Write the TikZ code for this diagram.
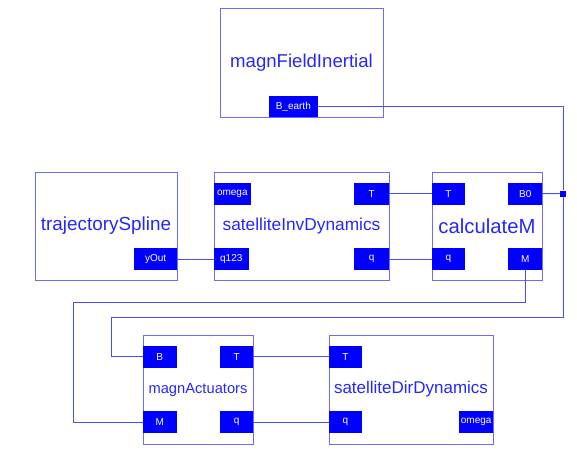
\documentclass[tikz,border=0pt]{standalone}
\usepackage{fontspec}
\setmainfont{Liberation Sans}
\usetikzlibrary{positioning}
\definecolor{BoxClr}{rgb}{0.42,0.42,1}
\definecolor{WireClr}{rgb}{0.3,0.3,1}
\definecolor{PortClr}{rgb}{0,0,1}
\definecolor{TitleClr}{rgb}{0.15,0.15,1}

\begin{document}
\begin{tikzpicture}[x=1pt,y=-1pt,
  blk/.style={draw=BoxClr,line width=.8pt,text=TitleClr,inner sep=0pt,minimum height=108pt},
  port/.style={fill=PortClr,text=white,inner sep=0pt,minimum width=35pt,minimum height=22pt,font=\fontsize{10}{12}\selectfont},
  wire/.style={draw=WireClr,line width=.9pt}]
\useasboundingbox (0,0) rectangle (577,465);

% blocks
\node[blk,minimum width=163pt,minimum height=109pt,font=\fontsize{18.6}{20}\selectfont] (field) at (301.5,62.5) {magnFieldInertial};
\node[blk,minimum width=142pt,font=\fontsize{18.9}{20}\selectfont] (traj) at (106,226) {trajectorySpline};
\node[blk,minimum width=175pt,font=\fontsize{17.3}{20}\selectfont] (inv) at (301.5,226) {satelliteInvDynamics};
\node[blk,minimum width=110pt,font=\fontsize{20.3}{22}\selectfont] (calc) at (487,226) {calculateM};
\node[blk,minimum width=110pt,minimum height=109pt,font=\fontsize{14.7}{16}\selectfont] (act) at (198,389.5) {magnActuators};
\node[blk,minimum width=164pt,minimum height=109pt,font=\fontsize{17}{19}\selectfont] (dir) at (411,389.5) {satelliteDirDynamics};

% ports
\node[port,minimum width=49pt,minimum height=21pt,above right=0pt and 49pt of field.south west] (fieldB) {B\_earth};
\node[port,minimum width=43pt,above left=10pt and 0pt of traj.south east] (trajY) {yOut};
\node[port,minimum width=37pt,below right=11pt and 0pt of inv.north west] (invW) {omega};
\node[port,below left=11pt and 0pt of inv.north east] (invT) {T};
\node[port,above right=10pt and 0pt of inv.south west] (invQ123) {q123};
\node[port,above left=10pt and 0pt of inv.south east] (invQ) {q};
\node[port,minimum width=33pt,below right=11pt and 0pt of calc.north west] (calcT) {T};
\node[port,minimum width=34pt,below left=11pt and 0pt of calc.north east] (calcB0) {B0};
\node[port,minimum width=33pt,above right=10pt and 0pt of calc.south west] (calcQ) {q};
\node[port,minimum width=34pt,above left=10pt and 0pt of calc.south east] (calcM) {M};
\node[port,minimum width=34pt,below right=11pt and 0pt of act.north west] (actB) {B};
\node[port,minimum width=33pt,below left=11pt and 0pt of act.north east] (actT) {T};
\node[port,minimum width=34pt,above right=11pt and 0pt of act.south west] (actM) {M};
\node[port,minimum width=33pt,above left=11pt and 0pt of act.south east] (actQ) {q};
\node[port,minimum width=33pt,below right=11pt and 0pt of dir.north west] (dirT) {T};
\node[port,minimum width=33pt,above right=11pt and 0pt of dir.south west] (dirQ) {q};
\node[port,minimum width=34pt,above left=11pt and 0pt of dir.south east] (dirW) {omega};

\node[fill=PortClr,inner sep=0pt,minimum size=6pt] (jn) at (563,193.5) {};
\coordinate (bendB) at (111,317);
\coordinate (bendM) at (73,302);

% wires
\draw[wire] (trajY) -- (invQ123);
\draw[wire] (invT) -- (calcT);
\draw[wire] (invQ) -- (calcQ);
\draw[wire] (actT) -- (dirT);
\draw[wire] (actQ) -- (dirQ);
\draw[wire] (fieldB) -| (jn);
\draw[wire] (calcB0) -- (jn);
\draw[wire] (jn) |- (bendB) |- (actB);
\draw[wire] (calcM) |- (bendM) |- (actM);

\end{tikzpicture}
\end{document}
